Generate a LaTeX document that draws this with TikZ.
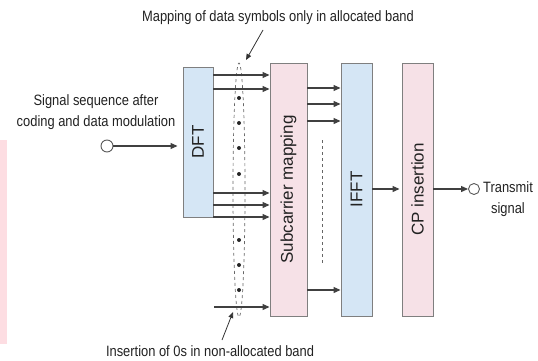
\documentclass[tikz,border=0pt]{standalone}
\usepackage{fontspec}
\setmainfont{Liberation Sans}
\newfontfamily\narrowfont[FakeStretch=0.86]{Liberation Sans}
\usepackage{graphicx}
\usetikzlibrary{arrows.meta,shapes.geometric}

\definecolor{fftblue}{HTML}{D5E6F5}
\definecolor{mappink}{HTML}{F6E1E7}
\definecolor{edgegray}{HTML}{7F7F7F}
\definecolor{stripink}{HTML}{FDDDE2}
\definecolor{inkgray}{HTML}{222222}

\begin{document}
\begin{tikzpicture}[x=1pt, y=-1pt,
  every node/.style={text=inkgray},
  block/.style={draw=edgegray, fill=#1, line width=0.9pt,
                minimum width=31pt, minimum height=253pt, inner sep=0pt,
                font=\fontsize{17}{19}\selectfont},
  port/.style={draw=edgegray!70!black, fill=white, circle,
               minimum size=12pt, inner sep=0pt, line width=0.9pt},
  arrow/.style={-{Triangle[length=7pt,width=6pt]}, line width=1.1pt, draw=black!75},
  pointer/.style={-{Triangle[length=6pt,width=5pt]}, line width=0.8pt, draw=black!80},
  note/.style={font=\narrowfont\fontsize{15}{21}\selectfont, align=center, inner sep=0pt},
  dotted band/.style={draw=edgegray!80!black, line width=0.7pt,
                      dash pattern=on 3pt off 3pt},
]
\useasboundingbox (0,0) rectangle (538,361);

% ── Edge strip ──
\fill[stripink] (0,140) rectangle (7,344);

% ── Blocks ──
\node[block=fftblue, minimum width=30pt, minimum height=150pt] (dft) at (198,142)
  {\rotatebox{90}{DFT}};
\node[block=mappink, minimum width=37pt] (sub) at (288.5,189.5)
  {\rotatebox{90}{Subcarrier mapping}};
\node[block=fftblue] (ifft) at (356.5,189.5) {\rotatebox{90}{IFFT}};
\node[block=mappink] (cp) at (417.5,189.5) {\rotatebox{90}{CP insertion}};

% ── Input and output ──
\node[port] (in) at (107,146) {};
\node[note] (inlbl) at (96,112) {Signal sequence after\\coding and data modulation};
\node[port, minimum size=11pt] (out) at (474,189) {};
\node[note] (outlbl) at (508,199) {Transmit\\signal};

\draw[arrow, shorten >=5pt] (in) -- (dft.west |- in);
\draw[arrow] (cp.east |- out) -- (out);

% ── Allocated band ──
\node[dotted band, ellipse, minimum width=12pt, minimum height=254pt,
      inner sep=0pt] (band) at (239,190) {};
\foreach \y in {98,123,148,174,240,265,290}
  \fill[black!85] (239,\y) circle (2pt);

% ── Arrows between blocks ──
\foreach \y in {75,89,193,205,217}
  \draw[arrow] (dft.east |- 0,\y) -- (sub.west |- 0,\y);
\coordinate (zin) at (214,307);
\draw[arrow] (zin) -- (sub.west |- zin);

\foreach \y in {88,104,121,290}
  \draw[arrow] (sub.east |- 0,\y) -- (ifft.west |- 0,\y);
\coordinate (gaptop) at (322,140);
\coordinate (gapbot) at (322,263);
\draw[dotted band] (gaptop) -- (gapbot);

\draw[arrow, shorten >=2pt] (ifft.east |- 0,189) -- (cp.west |- 0,189);

% ── Labels with pointers ──
\node[note] (maplbl) at (278,18) {Mapping of data symbols only in allocated band};
\coordinate (mapfoot) at (263,30);
\coordinate (maptip) at (246,60);
\draw[pointer] (mapfoot) -- (maptip);

\node[note] (zerolbl) at (210,351) {Insertion of 0s in non-allocated band};
\coordinate (zerofoot) at (222,340);
\coordinate (zerotip) at (233,312);
\draw[pointer] (zerofoot) -- (zerotip);

\end{tikzpicture}
\end{document}
